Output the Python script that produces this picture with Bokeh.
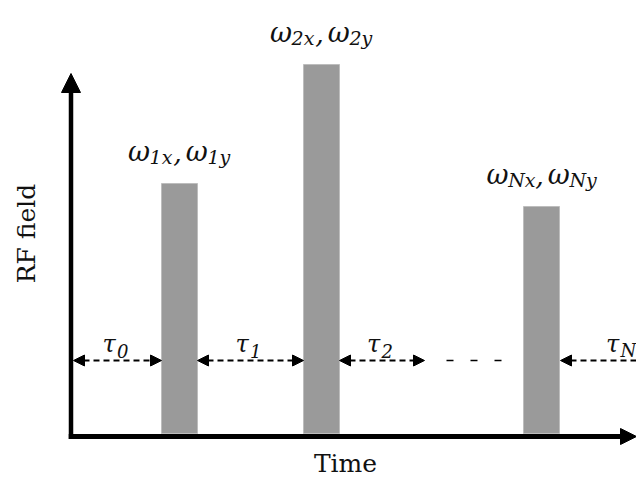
import numpy as np
from bokeh.plotting import figure
from bokeh.models import Range1d, Arrow, NormalHead, ColumnDataSource
from bokeh.core.properties import value
from bokeh.embed import file_html
from bokeh.resources import INLINE

# ---- data (time: arbitrary units from t=0 at the RF axis; amplitude: arbitrary units) ----
pulse_sub = ["1", "2", "N"]          # pulse index shown in the ω labels
pulse_start = [90, 232, 452]         # pulse start times
pulse_width = 36                     # pulse duration
pulse_amp = [250, 369, 227]          # RF amplitude of each pulse

tau_sub = ["0", "1", "2", "N"]       # delay labels τ0, τ1, τ2, τN
tau_start = [2, 126, 268, 489]       # delay interval starts
tau_end = [90, 232, 353, 610]        # delay interval ends
tau_heads = ["both", "both", "both", "start"]
tau_level = 73                       # height of the delay arrows
ellipsis_x = [375, 432]              # the "- - -" between τ2 and τN

x_label = "Time"
y_label = "RF field"

# ---- styling ----
SERIF = value("DejaVu Serif")
TXT = "#111111"
W_SIZE, W_SUB = 27, 19
T_SIZE, T_SUB = 24, 18
EM = {"ω": 0.80, "τ": 0.60, "1": 0.64, "2": 0.64, "0": 0.64, "x": 0.60, "y": 0.60, "N": 0.82, ",": 0.32}

def width(s, size):
    return sum(EM.get(c, 0.6) for c in s) * size

p = figure(width=636, height=477, x_range=Range1d(-71, 565), y_range=Range1d(-44, 433),
           x_axis_type=None, y_axis_type=None, toolbar_location=None, output_backend="svg",
           min_border=0, min_border_left=0, min_border_right=0, min_border_top=0, min_border_bottom=0,
           outline_line_color=None, background_fill_color="white", border_fill_color="white")
p.grid.visible = False

# pulses
centers = [s + pulse_width / 2 for s in pulse_start]
p.vbar(x=centers, width=pulse_width, bottom=0, top=pulse_amp,
       fill_color="#9a9a9a", line_color="#bdbdbd", line_width=1)

# axes (thick arrows)
p.segment(x0=[-0.5, -2.75], y0=[-5.5, -3], x1=[-0.5, 552], y1=[342, -3],
          line_width=[4.5, 5], line_color="black")
p.add_layout(Arrow(x_start=-0.5, y_start=330, x_end=-0.5, y_end=360, line_alpha=0,
                   end=NormalHead(size=19, fill_color="black", line_color="black")))
p.add_layout(Arrow(x_start=540, y_start=-3, x_end=565, y_end=-3, line_alpha=0,
                   end=NormalHead(size=16, fill_color="black", line_color="black")))

# delay arrows
def head():
    return NormalHead(size=11, fill_color="black", line_color="black", line_width=1)

for s, e, h in zip(tau_start, tau_end, tau_heads):
    p.add_layout(Arrow(x_start=s, y_start=tau_level, x_end=(e if h != "start" else 600),
                       y_end=tau_level,
                       line_width=2, line_dash="6 4", line_color="black",
                       start=head() if h in ("both", "start") else None,
                       end=head() if h in ("both", "end") else None))

p.segment(x0=[ellipsis_x[0]], y0=[tau_level], x1=[ellipsis_x[1]], y1=[tau_level],
          line_width=1.5, line_dash="7 17", line_color="black")

# ω labels above pulses
main = dict(x=[], y=[], t=[], xo=[])
subs = dict(x=[], y=[], t=[], xo=[])
commas = dict(x=[], y=[], t=[], xo=[])
GAP = 4
for c, a, k in zip(centers, pulse_amp, pulse_sub):
    s1, s2 = k + "x", k + "y"
    parts = [("ω", W_SIZE), (s1, W_SUB), (",", W_SIZE), (None, 0), ("ω", W_SIZE), (s2, W_SUB)]
    total = sum(width(t, sz) if t else GAP for t, sz in parts)
    xo = -total / 2
    offs = []
    for t, sz in parts:
        offs.append(xo)
        xo += width(t, sz) if t else GAP
    y = a + 32
    for d, t, o in ((main, "ω", offs[0]), (subs, s1, offs[1]), (commas, ",", offs[2]),
                    (main, "ω", offs[4]), (subs, s2, offs[5])):
        d["x"].append(c); d["y"].append(y); d["t"].append(t); d["xo"].append(o)

for src, size, yo in ((main, W_SIZE, 0), (commas, W_SIZE, 0), (subs, W_SUB, 5)):
    p.text(x="x", y="y", text="t", x_offset="xo", y_offset=yo, source=ColumnDataSource(src),
           text_font=SERIF, text_font_style="italic", text_font_size=f"{size}px",
           text_color=TXT, text_align="left", text_baseline="alphabetic")

# τ labels above delay arrows
tmid = [(s + e) / 2 for s, e in zip(tau_start, tau_end)]
tw = width("τ", T_SIZE)
p.text(x=tmid, y=[tau_level + 17] * len(tmid), text=["τ"] * len(tmid), x_offset=-15,
       text_font=SERIF, text_font_style="italic", text_font_size=f"{T_SIZE}px",
       text_color=TXT, text_align="left", text_baseline="alphabetic")
p.text(x=tmid, y=[tau_level + 17] * len(tmid), text=tau_sub, x_offset=-15 + tw, y_offset=7,
       text_font=SERIF, text_font_style="italic", text_font_size=f"{T_SUB}px",
       text_color=TXT, text_align="left", text_baseline="alphabetic")

# axis titles
p.text(x=[274], y=[-30], text=[x_label], text_font=SERIF, text_font_size="25px",
       text_color=TXT, text_align="center", text_baseline="alphabetic")
p.text(x=[-45], y=[200], text=[y_label], angle=np.pi / 2, text_font=SERIF, text_font_size="25px",
       text_color=TXT, text_align="center", text_baseline="middle")

open("out.html", "w").write(file_html(p, INLINE))
